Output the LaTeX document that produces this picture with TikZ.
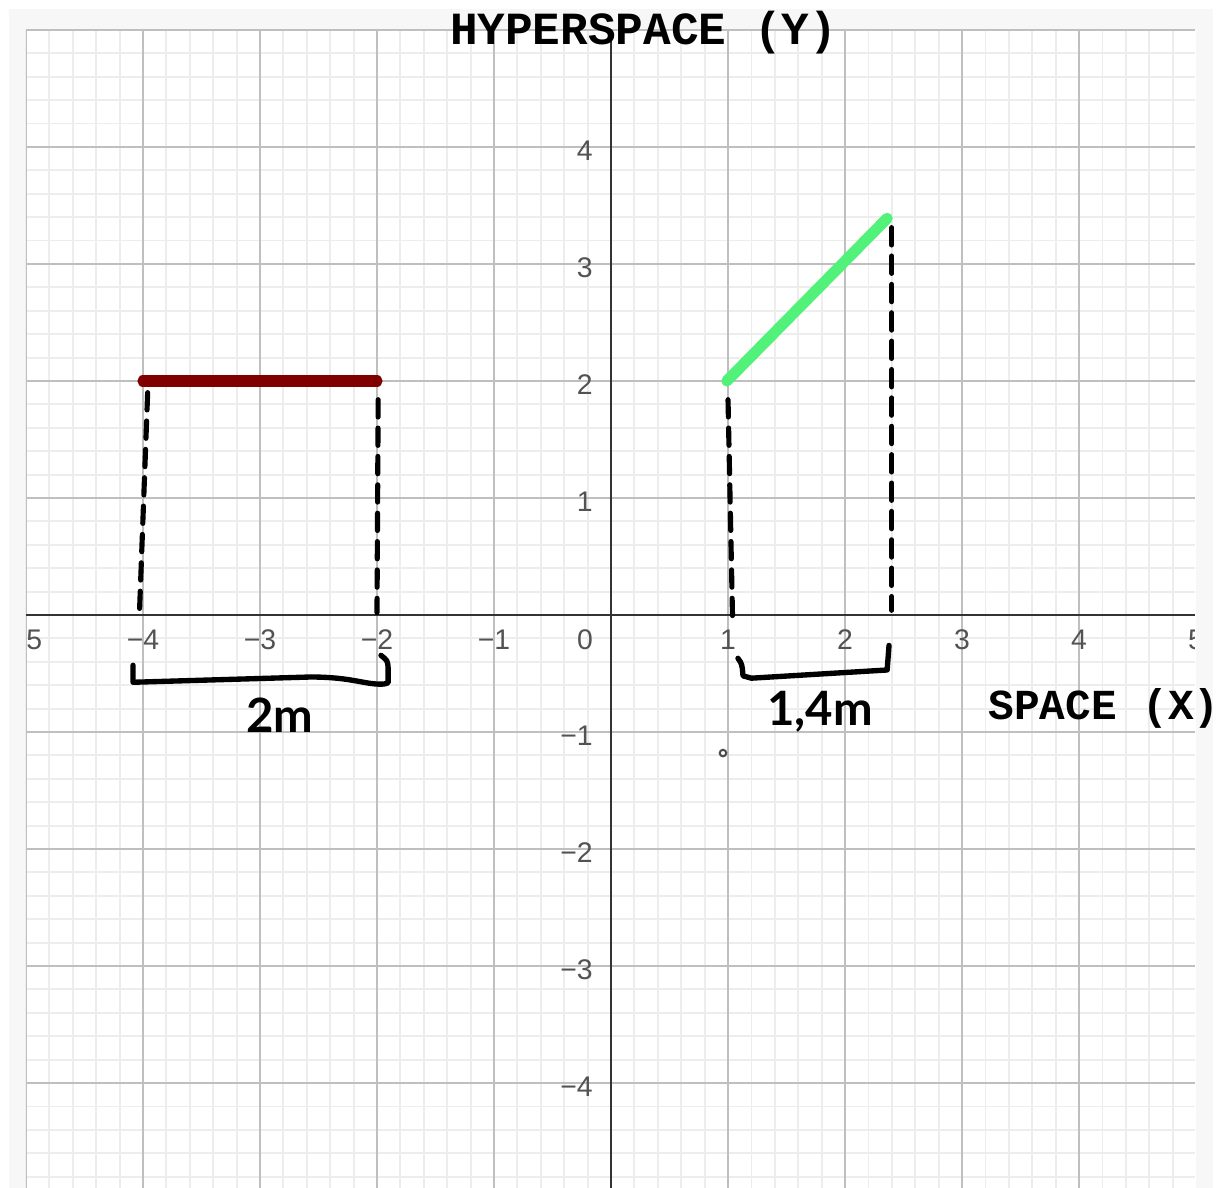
\documentclass[tikz,border=0pt]{standalone}
\usepackage{fontspec}
\newfontfamily\monof{Liberation Mono}
\newfontfamily\labf{Liberation Sans}
\newfontfamily\handf{Lato}
\definecolor{segred}{RGB}{128,0,0}
\definecolor{seggreen}{RGB}{82,242,122}
\begin{document}
\begin{tikzpicture}[x=1cm,y=1cm,
  minorgrid/.style={draw=black!7, line width=0.45pt},
  majorgrid/.style={draw=black!25, line width=0.5pt},
  axisline/.style={draw=black!80, line width=0.55pt},
  ticklab/.style={font=\labf\fontsize{6.9}{7}\selectfont, text=black!68, inner sep=0pt},
  axtitle/.style={font=\monof\bfseries\fontsize{11.2}{12}\selectfont, inner sep=0pt},
  handlab/.style={font=\handf\bfseries\fontsize{11.5}{13}\selectfont, inner sep=0pt},
  dashmark/.style={line width=1.25pt, dash pattern=on 4.2pt off 2.7pt, line cap=round},
  bracket/.style={line width=1.3pt, line cap=round, line join=round},
  segline/.style={line width=2.7pt, line cap=round}]
\useasboundingbox (-5.222,-4.897) rectangle (5.179,5.256);
\fill[black!3] (-5.145,-4.897) rectangle (5.145,5.18);
\fill[white] (-5,-4.897) rectangle (5,5);
\begin{scope}
  \clip (-5,-4.897) rectangle (4.99,5);
  \draw[minorgrid, step=0.2] (-5,-5) grid (5,5);
  \draw[majorgrid, step=1] (-5,-5) grid (5,5);
  \draw[axisline] (-5,0) -- (5,0);
  \draw[axisline] (0,-5) -- (0,5);
  \foreach \x/\t in {-5/−5,-4/−4,-3/−3,-2/−2,-1/−1,1/1,2/2,3/3,4/4,5/5}
    \node[ticklab] (xl\x) at (\x,-0.214) {\t};
  \foreach \y/\t in {-4/−4,-3/−3,-2/−2,-1/−1,1/1,2/2,3/3,4/4}
    \node[ticklab, anchor=east] (yl\y) at (-0.15,\y-0.03) {\t};
  \node[ticklab] (orig) at (-0.222,-0.214) {0};
\end{scope}
% titles
\node[axtitle] (ytitle) at (0.278,4.98) {HYPERSPACE (Y)};
\node[axtitle, font=\monof\bfseries\fontsize{10.4}{12}\selectfont] (xtitle) at (4.214,-0.80) {SPACE (X)};
% segments
\coordinate (r1) at (-4,2);
\coordinate (r2) at (-2,2);
\coordinate (g1) at (0.99,2);
\coordinate (g2) at (2.36,3.39);
\draw[segline, segred] (r1) -- (r2);
\draw[segline, seggreen] (g1) -- (g2);
% dashed projections
\coordinate (d1a) at (-3.96,1.9);
\coordinate (d1b) at (-4.03,0.02);
\coordinate (d2a) at (-1.99,1.84);
\coordinate (d2b) at (-2.0,0.02);
\coordinate (d3a) at (1.0,1.84);
\coordinate (d3b) at (1.04,-0.09);
\coordinate (d4a) at (2.40,3.31);
\coordinate (d4b) at (2.40,0.04);
\draw[dashmark] (d1a) -- (d1b);
\draw[dashmark] (d2a) -- (d2b);
\draw[dashmark] (d3a) -- (d3b);
\draw[dashmark] (d4a) -- (d4b);
% brackets
\coordinate (b1a) at (-4.085,-0.43);
\coordinate (b1b) at (-4.085,-0.575);
\coordinate (b1c) at (-2.57,-0.53);
\coordinate (b1d) at (-1.94,-0.59);
\coordinate (b1e) at (-1.966,-0.345);
\draw[bracket] (b1a) -- (b1b) -- (b1c) .. controls (-2.2,-0.53) and (-2.1,-0.6) .. (b1d) -- (-1.905,-0.58) -- (-1.905,-0.45) .. controls (-1.91,-0.39) .. (b1e);
\coordinate (b2a) at (1.085,-0.37);
\coordinate (b2b) at (1.128,-0.52);
\coordinate (b2c) at (2.36,-0.47);
\coordinate (b2d) at (2.376,-0.26);
\draw[bracket] (b2a) .. controls (1.12,-0.42) .. (b2b) -- (1.2,-0.54) -- (b2c) -- (b2d);
% hand labels
\node[handlab] (lab2m) at (-2.83,-0.86) {2m};
\node[handlab] (lab14m) at (1.786,-0.83) {1,4m};
% small marker
\draw[black!70, line width=0.5pt] (0.957,-1.18) circle (0.028);
\end{tikzpicture}
\end{document}
